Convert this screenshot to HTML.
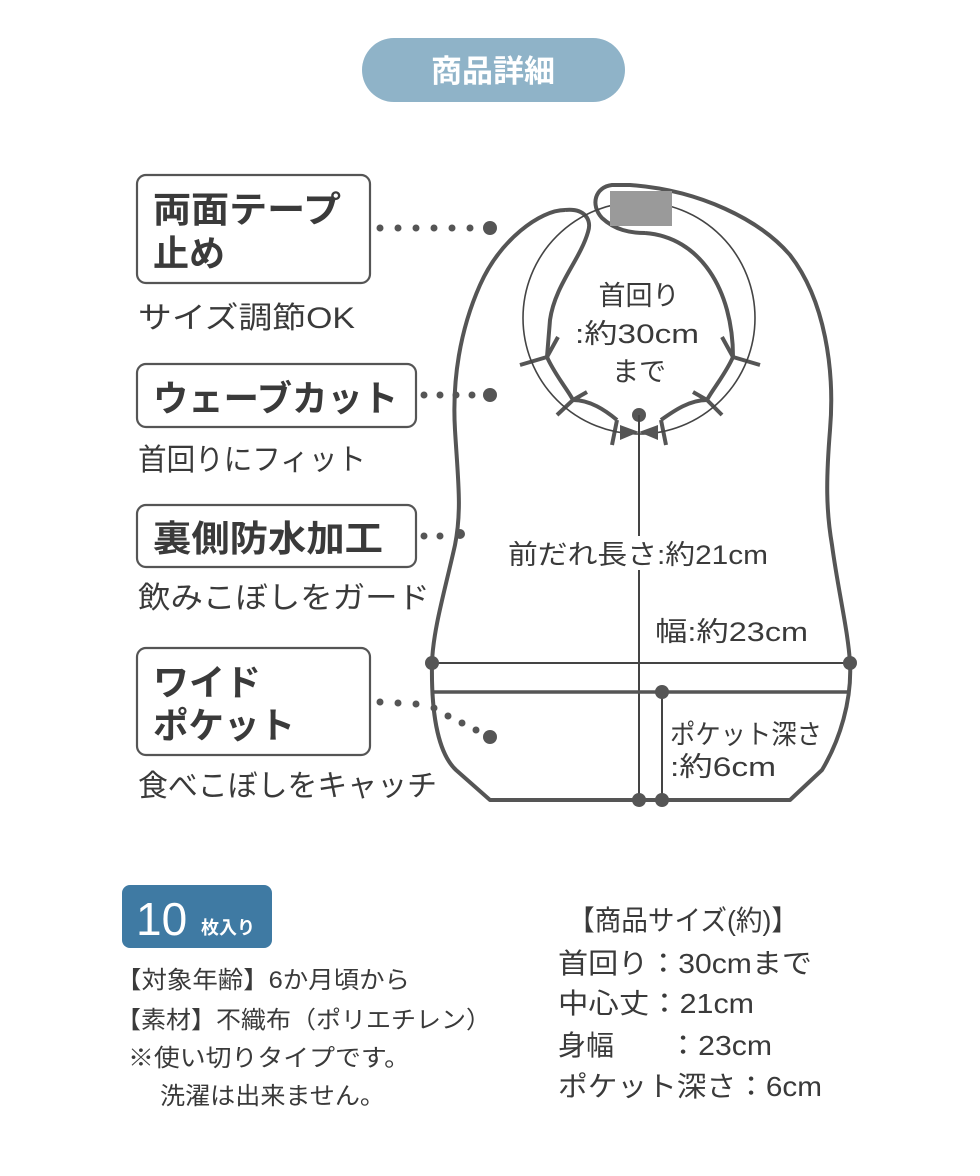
<!DOCTYPE html>
<html><head><meta charset="utf-8"><style>
html,body{margin:0;padding:0;background:#fff;}
svg{display:block;}
text{font-family:"Liberation Sans","Noto Sans CJK JP",sans-serif;fill:#3a3a3a;}
</style></head><body>
<svg width="980" height="1176" viewBox="0 0 980 1176" xmlns="http://www.w3.org/2000/svg">
<rect x="362" y="38" width="263" height="64" rx="32" fill="#8fb3c8"/>
<text x="493" y="82" text-anchor="middle" font-size="31" font-weight="bold" style="fill:#fff">商品詳細</text>

<g fill="none" stroke="#555" stroke-width="2.2">
<rect x="137" y="175" width="233" height="108" rx="9"/>
<rect x="137" y="364" width="279" height="63" rx="9"/>
<rect x="137" y="505" width="279" height="62" rx="9"/>
<rect x="137" y="648" width="233" height="107" rx="9"/>
</g>
<g font-size="36" font-weight="bold" style="fill:#444">
<text x="153" y="222" textLength="188" lengthAdjust="spacingAndGlyphs">両面テープ</text>
<text x="153" y="266">止め</text>
<text x="153" y="411" textLength="245" lengthAdjust="spacingAndGlyphs">ウェーブカット</text>
<text x="153" y="551" textLength="230" lengthAdjust="spacingAndGlyphs">裏側防水加工</text>
<text x="153" y="695">ワイド</text>
<text x="153" y="738" textLength="142" lengthAdjust="spacingAndGlyphs">ポケット</text>
</g>
<g font-size="30">
<text x="138" y="328" textLength="217" lengthAdjust="spacingAndGlyphs">サイズ調節OK</text>
<text x="138" y="470" textLength="228" lengthAdjust="spacingAndGlyphs">首回りにフィット</text>
<text x="138" y="608" textLength="292" lengthAdjust="spacingAndGlyphs">飲みこぼしをガード</text>
<text x="138" y="796" textLength="299" lengthAdjust="spacingAndGlyphs">食べこぼしをキャッチ</text>
</g>

<g fill="#555">
<circle cx="380" cy="228" r="3.5"/><circle cx="398" cy="228" r="3.5"/><circle cx="416" cy="228" r="3.5"/><circle cx="434" cy="228" r="3.5"/><circle cx="452" cy="228" r="3.5"/><circle cx="470" cy="228" r="3.5"/><circle cx="490" cy="228" r="7"/>
<circle cx="424" cy="395" r="3.5"/><circle cx="440" cy="395" r="3.5"/><circle cx="456" cy="395" r="3.5"/><circle cx="472" cy="395" r="3.5"/><circle cx="490" cy="395" r="7"/>
<circle cx="424" cy="536" r="3.5"/><circle cx="440" cy="536" r="3.5"/><circle cx="460" cy="534" r="5"/>
<circle cx="380" cy="702" r="3.5"/><circle cx="398" cy="703" r="3.5"/><circle cx="416" cy="704" r="3.5"/><circle cx="434" cy="708" r="3.5"/><circle cx="448" cy="716" r="3.5"/><circle cx="462" cy="723" r="3.5"/><circle cx="476" cy="730" r="3.5"/><circle cx="490" cy="737" r="7"/>
</g>

<!-- bib -->
<g fill="none" stroke="#555" stroke-width="4" stroke-linejoin="round">
<path d="M565 210 C540 210 500 240 480 285 C460 330 452 380 455 430 C458 480 462 510 455 545 C445 590 433 630 432 663 C431 720 440 755 456 770 L490 800 L790 800 L822 770 C840 740 852 700 850 663 C848 630 838 590 832 545 C826 510 826 480 830 430 C835 370 825 300 790 255 C760 220 700 190 630 185 L612 185 C595 187 590 205 602 218 C615 230 630 233 645 233"/>
<path d="M565 210 C585 208 592 220 588 232 C580 260 555 285 550 320 L547 357"/>
<path d="M645 233 C700 237 733 290 733 357"/>
<path d="M547 357 C555 375 568 390 573 400 C590 400 605 410 617 420"/>
<path d="M733 357 C725 375 712 390 707 400 C690 400 675 410 661 420"/>
<path d="M520 365 L547 357 L558 337 M573 400 L557 415 M573 400 L587 392 M617 420 L612 445 M661 420 L666 445 M707 400 L722 415 M707 400 L693 392 M733 357 L760 365 M733 357 L722 337"/>
</g>
<circle cx="639" cy="318" r="116" fill="none" stroke="#444" stroke-width="1.6"/>
<rect x="610" y="191" width="62" height="35" fill="#9a9a9a"/>
<path d="M620 425 L639 432 L620 440 Z M658 425 L639 432 L658 440 Z" fill="#555"/>
<circle cx="639" cy="415" r="7" fill="#555"/>
<g stroke="#444" stroke-width="2">
<line x1="639" y1="415" x2="639" y2="800"/>
<line x1="432" y1="663" x2="850" y2="663"/>
<line x1="662" y1="692" x2="662" y2="800"/>
</g>
<line x1="432" y1="692" x2="850" y2="692" stroke="#555" stroke-width="3.5"/>
<g fill="#555">
<circle cx="432" cy="663" r="7"/><circle cx="850" cy="663" r="7"/><circle cx="662" cy="692" r="7"/><circle cx="639" cy="800" r="7"/><circle cx="662" cy="800" r="7"/>
</g>
<rect x="506" y="536" width="265" height="34" fill="#fff"/>
<rect x="655" y="613" width="155" height="34" fill="#fff"/>
<g font-size="27">
<text x="639" y="305" text-anchor="middle">首回り</text>
<text x="637" y="343" text-anchor="middle" textLength="124" lengthAdjust="spacingAndGlyphs">:約30cm</text>
<text x="639" y="381" text-anchor="middle">まで</text>
<text x="508" y="564" textLength="260" lengthAdjust="spacingAndGlyphs">前だれ長さ:約21cm</text>
<text x="655" y="641" textLength="153" lengthAdjust="spacingAndGlyphs">幅:約23cm</text>
<text x="670" y="744" textLength="152" lengthAdjust="spacingAndGlyphs">ポケット深さ</text>
<text x="670" y="776" textLength="106" lengthAdjust="spacingAndGlyphs">:約6cm</text>
</g>

<rect x="122" y="885" width="150" height="63" rx="8" fill="#3f7aa3"/>
<text x="136" y="935" font-size="46" style="fill:#fff">10</text>
<text x="201" y="934" font-size="18" font-weight="bold" style="fill:#fff">枚入り</text>
<g font-size="24">
<text x="116" y="988" textLength="294" lengthAdjust="spacingAndGlyphs">【対象年齢】6か月頃から</text>
<text x="116" y="1028" textLength="375" lengthAdjust="spacingAndGlyphs">【素材】不織布（ポリエチレン）</text>
<text x="128" y="1066" textLength="282" lengthAdjust="spacingAndGlyphs">※使い切りタイプです。</text>
<text x="160" y="1104" textLength="225" lengthAdjust="spacingAndGlyphs">洗濯は出来ません。</text>
</g>
<g font-size="28" style="fill:#222">
<text x="568" y="930" textLength="230" lengthAdjust="spacingAndGlyphs">【商品サイズ(約)】</text>
<text x="558" y="973" textLength="254" lengthAdjust="spacingAndGlyphs">首回り：30cmまで</text>
<text x="558" y="1013" textLength="196" lengthAdjust="spacingAndGlyphs">中心丈：21cm</text>
<text x="558" y="1055">身幅</text>
<text x="668" y="1055" textLength="104" lengthAdjust="spacingAndGlyphs">：23cm</text>
<text x="558" y="1096" textLength="264" lengthAdjust="spacingAndGlyphs">ポケット深さ：6cm</text>
</g>
</svg>
</body></html>
